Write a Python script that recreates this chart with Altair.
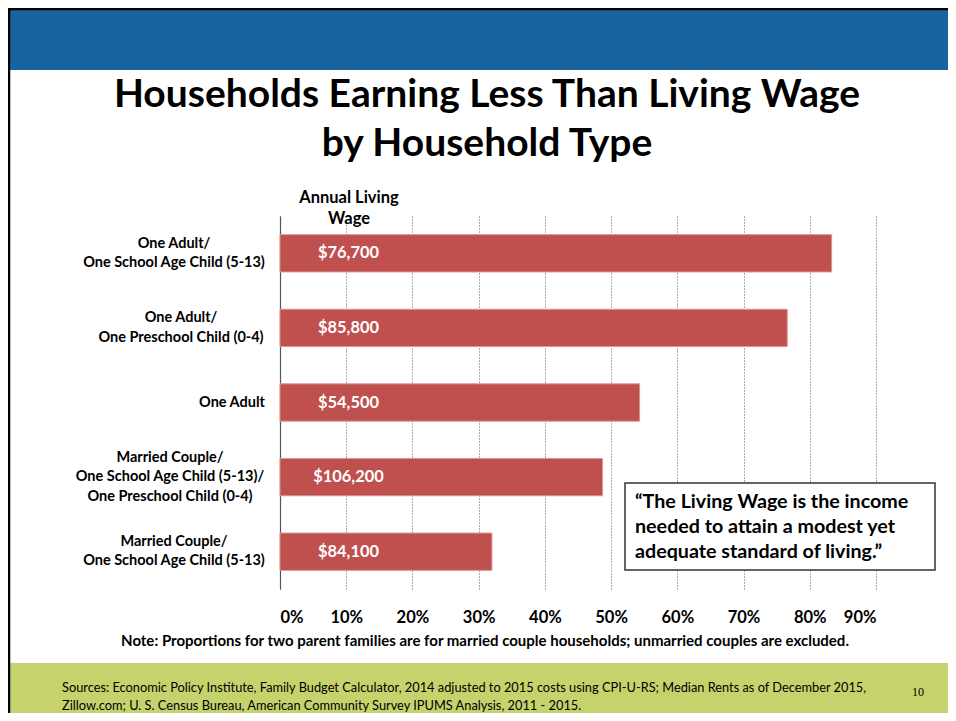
import altair as alt
import pandas as pd

categories = [
    "One Adult/|One School Age Child (5-13)",
    "One Adult/|One Preschool Child (0-4)",
    "One Adult",
    "Married Couple/|One School Age Child (5-13)/|One Preschool Child (0-4)",
    "Married Couple/|One School Age Child (5-13)",
]
share_below = [0.833, 0.766, 0.543, 0.487, 0.320]
living_wage = ["$76,700", "$85,800", "$54,500", "$106,200", "$84,100"]
x_ticks = [0, 0.1, 0.2, 0.3, 0.4, 0.5, 0.6, 0.7, 0.8, 0.9]

# horizontal centre of each category label block, relative to the axis (px)
label_centres = [-106, -99, -48, -110, -106]

df = pd.DataFrame({"cat": categories, "share": share_below, "wage": living_wage})

FONT = "Lato"
W, H = 596, 373
BAR = "#C0504D"
LBL_LH = 19.5

yscale = alt.Scale(domain=categories, paddingInner=0.5, paddingOuter=0.25)
y_enc = alt.Y("cat:N", scale=yscale, sort=categories,
              axis=alt.Axis(labels=False, ticks=False, title=None,
                            domain=True, domainColor="#555555", domainWidth=1.2))
x_enc = alt.X("share:Q", scale=alt.Scale(domain=[0, 0.9], nice=False, zero=True),
              axis=alt.Axis(values=x_ticks, format=".0%", title=None,
                            domain=False, ticks=False, grid=True,
                            gridColor="#555555", gridDash=[1, 2], gridWidth=1,
                            labelFont=FONT, labelFontSize=16.5, labelFontWeight="bold",
                            labelColor="#000000", labelPadding=20))

base = alt.Chart(df)

bars = base.mark_bar(color=BAR, stroke="#D99594", strokeWidth=1).encode(x=x_enc, y=y_enc)

wage_text = base.mark_text(align="center", baseline="middle", font=FONT, fontSize=16.4,
                           fontWeight="bold", color="white").encode(
    x=alt.value(68.5), y=alt.Y("cat:N", scale=yscale, sort=categories), text="wage:N")

label_layers = []
for cat, cx in zip(categories, label_centres):
    n = len(cat.split("|"))
    label_layers.append(
        base.transform_filter(alt.datum.cat == cat)
        .transform_calculate(lines="split(datum.cat, '|')")
        .mark_text(align="center", baseline="middle", font=FONT, fontSize=14.5,
                   fontWeight="bold", color="#000000", lineHeight=LBL_LH,
                   dy=-(n - 1) * LBL_LH / 2)
        .encode(x=alt.value(cx), y=alt.Y("cat:N", scale=yscale, sort=categories),
                text="lines:N")
    )

def deco_text(lines, x, y, size, align="center", weight="bold", font=FONT,
              color="#000000", line_height=None):
    kw = dict(align=align, baseline="middle", font=font, fontSize=size,
              fontWeight=weight, color=color)
    if line_height:
        kw["lineHeight"] = line_height
    return alt.Chart(pd.DataFrame({"t": [lines]})).mark_text(**kw).encode(
        x=alt.value(x), y=alt.value(y), text="t:N")

# slide decorations
top_band = alt.Chart(pd.DataFrame({"a": [0]})).mark_rect(color="#1764A0").encode(
    x=alt.value(-272), x2=alt.value(668), y=alt.value(-206), y2=alt.value(-146))
bottom_band = alt.Chart(pd.DataFrame({"a": [0]})).mark_rect(color="#C6D36D").encode(
    x=alt.value(-272), x2=alt.value(668), y=alt.value(447), y2=alt.value(497))
left_border = alt.Chart(pd.DataFrame({"a": [0]})).mark_rule(color="#000000", strokeWidth=2.5).encode(
    x=alt.value(-271), y=alt.value(-208), y2=alt.value(497))
top_border = alt.Chart(pd.DataFrame({"a": [0]})).mark_rule(color="#000000", strokeWidth=2.5).encode(
    x=alt.value(-272), x2=alt.value(668), y=alt.value(-207))

title1 = deco_text("Households Earning Less Than Living Wage", 207, -121, 39)
title2 = deco_text("by Household Type", 207, -72, 39)
header = deco_text(["Annual Living", "Wage"], 69, -18, 16.5, line_height=21)
note = deco_text("Note: Proportions for two parent families are for married couple households; "
                 "unmarried couples are excluded.", 205, 425, 15)

quote_box = alt.Chart(pd.DataFrame({"a": [0]})).mark_rect(
    fill="white", stroke="#333333", strokeWidth=1.5).encode(
    x=alt.value(345), x2=alt.value(655), y=alt.value(267), y2=alt.value(354))
quote = deco_text(["\u201cThe Living Wage is the income", "needed to attain a modest yet",
                   "adequate standard of living.\u201d"], 355, 286, 19.7, align="left",
                  line_height=25)

sources = deco_text(["Sources: Economic Policy Institute, Family Budget Calculator, 2014 adjusted to 2015 "
                     "costs using CPI-U-RS; Median Rents as of December 2015,",
                     "Zillow.com; U. S. Census Bureau, American Community Survey IPUMS Analysis, 2011 - 2015."],
                    -218, 472, 12.8, align="left", weight="normal",
                    font=FONT, line_height=18)
page_no = deco_text("10", 638, 476, 12, weight="normal", font="Liberation Serif")

chart = alt.layer(
    top_band, bottom_band, bars, wage_text, *label_layers, title1, title2, header, note,
    quote_box, quote, sources, page_no, left_border, top_border
).properties(
    width=W, height=H,
    autosize=alt.AutoSizeParams(type="none"),
    padding={"left": 272, "top": 208, "right": 72, "bottom": 124},
    background="white",
).configure_view(stroke=None)

chart.save("out.html", embed_options={"renderer": "svg", "actions": False})
